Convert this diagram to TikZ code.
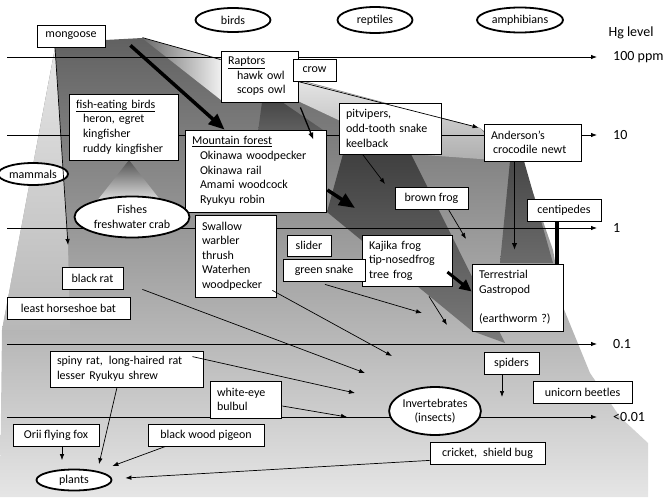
\documentclass[tikz,border=0pt]{standalone}
\usepackage{fontspec}
\setmainfont{Carlito}
\usetikzlibrary{arrows.meta,calc,shapes.geometric}

\pgfdeclarelayer{shade}
\pgfdeclarelayer{lines}
\pgfsetlayers{shade,lines,main}

\tikzset{
  box/.style={draw, fill=white, line width=0.8pt, inner xsep=7pt, inner ysep=2pt,
    minimum height=22pt, font=\fontsize{12}{14.6}\selectfont},
  listbox/.style={box, align=left},
  group/.style={ellipse, draw, fill=white, line width=1.8pt, inner sep=0pt,
    align=center, font=\fontsize{12}{14.6}\selectfont},
  link/.style={-{Latex[length=6pt,width=4.5pt]}, line width=0.7pt},
  midlink/.style={-{Latex[length=7pt,width=5.5pt]}, line width=1.3pt},
  biglink/.style={-{Triangle[length=16pt,width=13pt]}, line width=3.5pt},
  level/.style={-{Latex[length=6pt,width=4.5pt]}, line width=0.8pt},
  levellabel/.style={anchor=west, inner sep=2pt, font=\fontsize{14}{16}\selectfont},
}

\begin{document}
\begin{tikzpicture}[x=1pt, y=-1pt]
\useasboundingbox (0,0) rectangle (667,498);

% groups
\node[group, minimum width=75pt, minimum height=24pt] (birds) at (233,20) {birds};
\node[group, minimum width=75pt, minimum height=26pt] (reptiles) at (375,20) {reptiles};
\node[group, minimum width=86pt, minimum height=25pt] (amphibians) at (520,20) {amphibians};
\node[group, minimum width=70pt, minimum height=22pt] (mammals) at (33,174) {mammals};
\node[levellabel, anchor=center] (hg) at (631,33) {Hg level};

% predators
\node[box, minimum width=68pt] (mongoose) at (71,36) {mongoose};
\node[listbox, text width=63pt, minimum height=51pt] (raptors) at (259.5,76.5)
  {\underline{Raptors}\\\hspace*{9pt}hawk owl\\\hspace*{9pt}scops owl};
\node[box, minimum width=43pt] (crow) at (314.5,70) {crow};
\node[listbox, text width=95pt, minimum height=66pt] (fishbirds) at (123.5,127)
  {\underline{fish-eating birds}\\\hspace*{7pt}heron, egret\\\hspace*{7pt}kingfisher\\\hspace*{7pt}ruddy kingfisher};
\node[listbox, text width=127pt, minimum height=82pt] (mforest) at (255.5,171)
  {\underline{Mountain forest}\\\hspace*{8pt}Okinawa woodpecker\\\hspace*{8pt}Okinawa rail\\\hspace*{8pt}Amami woodcock\\\hspace*{8pt}Ryukyu robin};
\node[listbox, text width=88pt, minimum height=51pt] (pitvipers) at (390,128.5)
  {pitvipers,\\odd-tooth snake\\keelback};
\node[listbox, text width=83pt, minimum height=37pt] (newt) at (532.5,142.5)
  {Anderson's\\\hspace*{2pt}crocodile newt};

% middle levels
\node[group, minimum width=115pt, minimum height=41pt] (fishes) at (132,217) {Fishes\\freshwater crab};
\node[box, minimum width=73pt] (brownfrog) at (431.5,198) {brown frog};
\node[box, minimum width=74pt] (centipedes) at (564,210) {centipedes};
\node[listbox, text width=67pt, minimum height=82pt] (swallow) at (235.5,256)
  {Swallow\\warbler\\thrush\\Waterhen\\woodpecker};
\node[box, minimum width=44pt, minimum height=21pt] (slider) at (309,245.5) {slider};
\node[listbox, text width=76pt, minimum height=51pt] (kajika) at (407,260.5)
  {Kajika frog\\tip-nosedfrog\\tree frog};
\node[box, minimum width=82pt] (greensnake) at (324,270) {green snake};
\node[listbox, text width=77pt, minimum height=67pt] (gastropod) at (517.5,297.5)
  {Terrestrial\\Gastropod\\[14.6pt](earthworm ?)};
\node[box, minimum width=61pt] (blackrat) at (92.5,278) {black rat};
\node[box, minimum width=123pt] (bat) at (68.5,308) {least horseshoe bat};

% lower levels
\node[listbox, text width=139pt, minimum height=36pt] (spinyrat) at (126.5,369)
  {spiny rat,\enspace long-haired rat\\lesser Ryukyu shrew};
\node[listbox, text width=57pt, minimum height=37pt] (whiteeye) at (245.5,399.5)
  {white-eye\\bulbul};
\node[box, minimum width=55pt] (spiders) at (511.5,363) {spiders};
\node[box, minimum width=99pt] (beetles) at (582.5,392) {unicorn beetles};
\node[group, minimum width=86pt, minimum height=48pt] (invert) at (435,411) {Invertebrates\\(insects)};
\node[box, minimum width=86pt] (flyingfox) at (56,435) {Orii flying fox};
\node[box, minimum width=116pt] (pigeon) at (206,435) {black wood pigeon};
\node[box, minimum width=115pt] (cricket) at (487.5,453) {cricket,\enspace shield bug};
\node[group, minimum width=75pt, minimum height=21pt] (plants) at (74,480) {plants};

% free ends
\coordinate (ratdrop) at (68,245);
\coordinate (forestdrop) at (355,208);
\coordinate (viperdrop) at (385,184);
\coordinate (frogdrop) at (466,239);
\coordinate (newtdrop) at (514.5,250);
\coordinate (snakedrop) at (422,313);
\coordinate (kajikadrop) at (447,325);
\coordinate (swallowdrop) at (392,356);
\coordinate (ratline) at (365,373);
\coordinate (shrewline) at (355,393);
\coordinate (eyeline) at (347,417);
\coordinate (spiderdrop) at (502,397);

% gray fans
\begin{pgfonlayer}{shade}
\shade[top color=black!62, middle color=black!30, bottom color=black!10]
  (55,48) -- (105,40) -- (142,38) -- (480,128) -- (522,161) -- (553,250)
  -- (563,307) -- (590,373) -- (620,417) -- (648,443) -- (648,497)
  -- (0,497) -- (2,330) -- cycle;
\shade[top color=black!5, bottom color=black!32]
  (221,60) -- (480,128) -- (508,161) -- (411,154) -- (300,102) -- cycle;
\shade[left color=black!58, right color=black!6] (142,38) -- (221,59) -- (221,100) -- cycle;
\shade[top color=black!72, bottom color=black!62] (262,102) -- (282,102) -- (326,132) -- (258,132) -- cycle;
\shade[top color=black!75, bottom color=black!52]
  (343,154) -- (411,154) -- (505,343) -- (472,331) -- (327,212) -- cycle;
\shade[top color=black!72, bottom color=black!58] (510,161) -- (524,161) -- (553,263) -- (500,263) -- cycle;
\shade[top color=black!68, bottom color=black!5] (129,160) -- (165,206) -- (93,206) -- cycle;
\shade[top color=black!10, bottom color=black!28] (55,48) -- (68,245) -- (70,330) -- (2,330) -- cycle;
\end{pgfonlayer}

% Hg levels
\begin{pgfonlayer}{lines}
\foreach \y/\lab [count=\i] in {57/100 ppm, 135/10, 228/1, 344/0.1, 417/{<0.01}} {
  \draw[level] (7,\y) -- (597,\y);
  \node[levellabel] (lv\i) at (611,\y) {\lab};
}
\draw[line width=0.7pt] ($(mongoose.north east)+(37,13)$) -- ($(raptors.north west)+(0,9)$);
\end{pgfonlayer}

% feeding links
\draw[biglink] ($(mongoose.south east)+(25,-2)$) -- ($(mforest.north west)+(40,0)$);
\draw[link] ($(mongoose.south)+(-16,0)$) -- (ratdrop);
\draw[midlink] ($(raptors.south east)+(2,5)$) -- ($(mforest.north east)+(-13,10)$);
\draw[link] ($(crow.south west)+(5,0)$) -- ($(newt.north west)+(-5,4)$);
\draw[biglink] ($(mforest.east)+(1,19)$) -- (forestdrop);
\draw[link] ($(pitvipers.south west)+(24,0)$) -- (viperdrop);
\draw[link] ($(brownfrog.south east)+(-20,0)$) -- (frogdrop);
\draw[-{Triangle[length=12pt,width=11pt]}, line width=3pt]
  ($(kajika.east)+(-5,11.5)$) -- ($(gastropod.west)+(0,-6)$);
\draw[midlink] ($(newt.south)+(-18,0)$) -- (newtdrop);
\draw[line width=3.5pt] ([xshift=-7pt]centipedes.south) -- ([xshift=-7pt]centipedes.south |- gastropod.north);
\draw[link] ($(greensnake.south)+(1,3)$) -- (snakedrop);
\draw[link] ($(kajika.south)+(22,10)$) -- (kajikadrop);
\draw[link] ($(swallow.south east)+(-4,-7)$) -- (swallowdrop);
\draw[link] ($(blackrat.south east)+(19,0)$) -- (ratline);
\draw[link] ($(spinyrat.north east)+(-11,6)$) -- (shrewline);
\draw[link] ($(whiteeye.east)+(1,6.5)$) -- (eyeline);
\draw[link] ($(spiders.south)+(-9.5,0)$) -- (spiderdrop);

% to plants
\draw[link] ($(cricket.south west)+(0,-4)$) -- ($(plants.east)+(13,-2)$);
\draw[link] ($(flyingfox.south)+(6,0)$) -- ($(plants.north)+(-12,-8.5)$);
\draw[link] ($(spinyrat.south)+(-9.5,0)$) -- ($(plants.north)+(25,-4.5)$);
\draw[link] ($(pigeon.south west)+(18,0)$) -- ($(plants.east)+(0,-14)$);

\end{tikzpicture}
\end{document}
